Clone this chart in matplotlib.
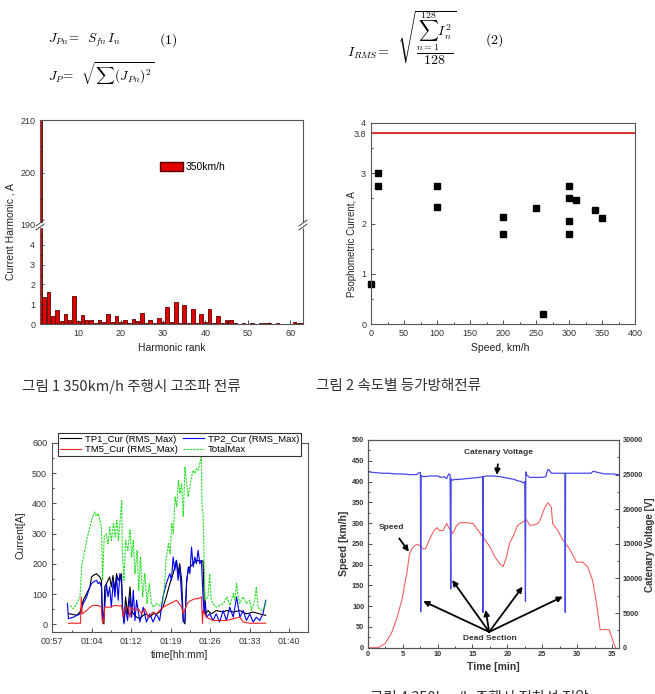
import numpy as np
import matplotlib.pyplot as plt
from matplotlib.patches import Patch, Rectangle
from matplotlib.lines import Line2D
from matplotlib.ticker import MultipleLocator

plt.rcParams['font.family'] = ['Liberation Sans', 'DejaVu Sans']
plt.rcParams['mathtext.fontset'] = 'cm'
plt.rcParams['axes.linewidth'] = 0.8
plt.rcParams['xtick.direction'] = 'in'
plt.rcParams['ytick.direction'] = 'in'

# fig 1: harmonic current at 350 km/h (rank 1..63)
harm_amp = [215, 1.35, 1.6, 0.4, 0.72, 0.15, 0.48, 0.18, 1.42, 0.15,
            0.47, 0.18, 0.18, 0.05, 0.2, 0.08, 0.5, 0.1, 0.4, 0.1,
            0.2, 0.05, 0.25, 0.15, 0.58, 0.05, 0.18, 0.05, 0.3, 0.1,
            0.85, 0.1, 1.1, 0.05, 0.98, 0.05, 0.78, 0.05, 0.48, 0.1,
            0.75, 0.05, 0.38, 0.05, 0.2, 0.2, 0.05, 0.02, 0.05, 0.02,
            0.06, 0.02, 0.03, 0.03, 0.03, 0.02, 0.06, 0.02, 0.02, 0.02,
            0.08, 0.03, 0.03]
harm_rank = np.arange(1, len(harm_amp) + 1)

# fig 2: psophometric current vs speed
pso_speed = [0, 10, 10, 100, 100, 200, 200, 250, 260, 300, 300, 300, 300, 310, 340, 350]
pso_curr = [0.8, 3.01, 2.74, 2.74, 2.32, 2.13, 1.8, 2.3, 0.2, 2.74, 2.5, 2.05, 1.8, 2.46, 2.26, 2.1]
pso_limit = 3.8

# fig 3: currents over time (minutes)
tp1_t = [60.6, 60.9, 62.1, 62.7, 63.3, 63.9, 64.5, 64.8, 65.1, 65.7,
         66.0, 66.3, 66.6, 66.8, 67.05, 67.2, 67.5, 67.8, 68.1, 68.4,
         68.7, 69.05, 69.35, 69.65, 69.95, 70.25, 70.45, 70.7, 70.99, 71.35,
         71.8, 72.1, 72.4, 73.0, 73.6, 74.2, 74.8, 75.4, 76.0, 76.6,
         77.2, 77.8, 78.4, 79.05, 79.65, 79.95, 80.25, 80.55, 80.85, 81.2,
         81.5, 81.8, 82.1, 82.4, 82.7, 83.3, 83.9, 84.5, 85.1, 85.3,
         85.5, 86.0, 86.6, 87.5, 88.75, 89.35, 90.6, 91.8, 93.0, 94.2, 95.4, 96.5]
tp1_v = [35, 35, 30, 41, 80, 102, 124, 157, 162, 168,
         162, 157, 146, 13, 2, 124, 135, 146, 157, 124,
         162, 113, 168, 146, 157, 168, 57, 8, 91, 35,
         124, 46, 35, 24, 19, 30, 35, 24, 35, 35,
         41, 57, 91, 135, 168, 190, 212, 168, 201, 146,
         13, 2, 146, 179, 190, 201, 212, 210, 210, 80,
         35, 46, 35, 46, 41, 46, 41, 46, 35, 41, 35, 30]

tp2_t = [60.4, 60.6, 61.5, 62.7, 63.3, 63.9, 64.5, 64.8, 65.1, 65.7,
         66.0, 66.3, 66.6, 66.8, 67.2, 67.5, 67.8, 68.1, 68.4, 68.75,
         69.05, 69.35, 69.65, 69.95, 70.25, 70.45, 70.7, 70.99, 71.35, 71.8,
         72.1, 72.4, 72.7, 73.0, 73.6, 74.2, 74.8, 75.4, 76.0, 76.6,
         77.2, 77.8, 78.4, 79.05, 79.35, 79.65, 79.95, 80.25, 80.55, 80.85,
         81.2, 81.5, 81.8, 82.1, 82.4, 82.7, 83.0, 83.3, 83.6, 83.9,
         84.2, 84.5, 84.8, 85.1, 85.3, 85.5, 85.7, 86.3, 86.9, 87.5,
         88.1, 88.75, 89.35, 89.95, 90.6, 91.2, 91.8, 92.4, 93.0, 93.6,
         94.2, 94.8, 95.4, 96.0, 96.5]
tp2_v = [69, 19, 24, 35, 69, 91, 124, 135, 140, 146,
         135, 140, 124, 8, 57, 135, 91, 124, 57, 146,
         91, 157, 80, 168, 135, 46, 2, 57, 13, 91,
         24, 113, 13, 80, 8, 57, 8, 35, 8, 35,
         13, 91, 135, 168, 146, 223, 179, 212, 146, 190,
         91, 8, 13, 135, 190, 168, 256, 190, 223, 201,
         245, 201, 212, 91, 35, 80, 24, 35, 13, 35,
         8, 46, 13, 57, 24, 91, 24, 46, 13, 35,
         8, 24, 13, 35, 80]

tm5_t = [60.6, 62.1, 62.8, 62.93, 63.1, 63.6, 64.5, 65.1, 65.7, 66.3,
         66.6, 66.8, 67.05, 67.2, 68.1, 69.05, 69.95, 70.25, 70.55, 70.9,
         71.5, 71.8, 72.1, 72.7, 73.3, 73.9, 74.5, 75.1, 76.0, 76.6,
         77.2, 77.8, 78.4, 79.05, 79.65, 80.25, 80.75, 81.2, 81.5, 81.95,
         82.4, 83.0, 83.6, 84.2, 84.8, 85.0, 85.1, 85.7, 86.9, 88.1,
         89.35, 90.6, 91.8, 92.4, 93.6, 96.5]
tm5_v = [4, 4, 4, 91, 35, 41, 57, 63, 63, 61,
         57, 4, 13, 57, 57, 63, 61, 63, 24, 52,
         57, 24, 57, 46, 52, 35, 52, 24, 41, 35,
         46, 57, 63, 69, 74, 80, 69, 57, 35, 57,
         74, 80, 85, 85, 91, 4, 46, 24, 13, 13,
         13, 19, 24, 8, 4, 4]

tot_t = [60.9, 61.5, 62.1, 62.7, 63.0, 63.3, 63.6, 63.9, 64.5, 65.1,
         65.4, 65.7, 66.0, 66.3, 66.6, 66.8, 67.1, 67.5, 67.8, 68.1,
         68.4, 68.8, 69.1, 69.4, 69.7, 70.0, 70.3, 70.4, 70.7, 71.0,
         71.4, 71.8, 72.1, 72.4, 72.7, 73.1, 73.4, 73.7, 74.1, 74.5,
         74.9, 75.3, 75.7, 76.1, 76.6, 77.2, 77.8, 78.1, 78.4, 78.8,
         79.1, 79.4, 79.7, 80.0, 80.3, 80.6, 80.9, 81.2, 81.5, 81.8,
         82.1, 82.4, 82.7, 83.0, 83.3, 83.6, 83.9, 84.2, 84.5, 84.8,
         84.9, 85.1, 85.3, 85.5, 86.0, 86.3, 86.6, 86.9, 87.5, 88.1,
         88.8, 89.4, 90.0, 90.6, 90.9, 91.2, 91.5, 91.8, 92.4, 93.0,
         93.6, 93.9, 94.5, 94.8, 95.1, 95.7, 96.3, 96.6]
tot_v = [63, 52, 69, 91, 190, 223, 245, 278, 322, 361,
         372, 358, 367, 345, 322, 146, 290, 300, 267, 322,
         278, 334, 290, 345, 278, 345, 409, 245, 146, 278,
         245, 312, 223, 278, 168, 245, 113, 223, 91, 168,
         69, 135, 69, 57, 69, 63, 80, 135, 223, 267,
         234, 334, 300, 422, 389, 477, 433, 466, 356, 521,
         466, 422, 455, 488, 510, 499, 516, 510, 533, 560,
         389, 367, 201, 80, 91, 168, 80, 69, 57, 63,
         69, 91, 63, 102, 80, 135, 91, 69, 91, 69,
         80, 46, 80, 124, 57, 46, 57, 80]

time_ticks = [57.6, 64.8, 72.0, 79.2, 86.4, 93.6, 100.8]
time_labels = ['00:57', '01:04', '01:12', '01:19', '01:26', '01:33', '01:40']

# fig 4: speed and catenary voltage over a 350 km/h run
spd_t = [0, 1.5, 2.5, 3.4, 4.1, 4.9, 5.6, 6.0, 6.5, 7.1,
         7.5, 7.95, 8.3, 8.8, 9.4, 9.9, 10.3, 10.8, 11.3, 11.7,
         12.2, 12.7, 13.2, 14.1, 15.1, 15.6, 16.5, 17.5, 18.2, 18.9,
         19.4, 19.9, 20.3, 20.8, 21.5, 22.1, 22.7, 23.2, 23.7, 24.4,
         24.9, 25.3, 25.8, 26.3, 26.5, 27.2, 27.95, 28.7, 29.4, 29.9,
         30.8, 31.5, 32.2, 32.7, 33.3, 33.9, 34.6, 35.1, 35.5]
spd_v = [0, 0, 10, 35, 67, 115, 179, 227, 243, 249,
         245, 238, 238, 259, 279, 289, 282, 282, 299, 287,
         275, 293, 301, 301, 299, 287, 267, 243, 219, 203,
         195, 219, 251, 267, 295, 301, 309, 295, 295, 299,
         315, 335, 349, 339, 298, 283, 259, 243, 223, 206,
         206, 195, 163, 115, 43, 44, 43, 18, 0]
volt_t = [0, 1, 2, 3, 4, 5, 6, 7, 7.4, 7.55,
          7.6, 7.65, 7.7, 8, 9, 10, 10.5, 11, 11.3, 11.6,
          11.8, 11.9, 11.95, 12.1, 12.5, 13, 14, 15, 16, 16.45,
          16.5, 16.55, 17, 18, 19, 20, 21, 21.5, 22, 22.3,
          22.5, 22.6, 22.65, 22.8, 23.2, 24, 25, 25.5, 25.8, 26,
          26.3, 27, 28, 28.25, 28.3, 28.35, 29, 30, 31, 32,
          32.3, 33, 34, 35, 36]
volt_v = [25400, 25300, 25200, 25200, 25100, 25100, 25000, 25000, 25300, 25300,
          5200, 24900, 24800, 24700, 24800, 24800, 24600, 24700, 24400, 25100,
          25000, 8500, 24400, 24200, 24300, 24300, 24400, 24500, 24600, 24700,
          5100, 24700, 24800, 24800, 24700, 24500, 24300, 24100, 24000, 23800,
          24000, 6700, 25400, 24900, 24600, 24600, 24600, 24700, 25700, 25700,
          25200, 25200, 25200, 25200, 5100, 25200, 25200, 25200, 25200, 25200,
          25500, 25300, 25100, 25100, 25000]
dead_tips = [(7.95, 112), (12.1, 163), (16.9, 91), (22.2, 147), (27.95, 123)]

W, H = 655, 694
fig = plt.figure(figsize=(6.55, 6.94), dpi=100)


def fx(px):
    return px / W


def fy(py):
    return 1 - py / H


def box(l, t, r, b):
    return [fx(l), fy(b), (r - l) / W, (b - t) / H]


tick_kw = dict(labelsize=6.5, length=3, width=0.6, colors='#333333', labelcolor='#333333')

# ---- equations
fig.text(fx(48), fy(40), r'$J_{Pn}\!=\;\;S_{fn}\,I_n$', fontsize=9.5, va='center')
fig.text(fx(159), fy(40), r'$\mathrm{(1)}$', fontsize=10, va='center')
fig.text(fx(48), fy(74), r'$J_P\!=\;\;\sqrt{\sum(J_{Pn})^2}$', fontsize=9.5, va='center')
fig.text(fx(347), fy(38), r'$I_{RMS}\!=\;\;\sqrt{\dfrac{\sum_{n=1}^{128} I_n^2}{128}}$',
         fontsize=10, va='center')
fig.text(fx(485), fy(40), r'$\mathrm{(2)}$', fontsize=10, va='center')

# ---- fig 1 (broken y axis)
ax1u = fig.add_axes(box(40, 120, 303, 225))
ax1l = fig.add_axes(box(40, 225, 303, 324))
for ax in (ax1u, ax1l):
    ax.bar(harm_rank, harm_amp, width=0.85, color='#e00000', edgecolor='#5a0000', linewidth=0.6)
    ax.set_xlim(1, 63)
    ax.tick_params(**tick_kw)
    ax.tick_params(which='minor', length=1.5, width=0.5)
    for s in ax.spines.values():
        s.set_color('#555555')
ax1u.set_ylim(190, 210)
ax1u.set_yticks([190, 200, 210])
ax1u.yaxis.set_minor_locator(MultipleLocator(5))
ax1u.spines['bottom'].set_visible(False)
ax1u.set_xticks([])
ax1l.set_ylim(0, 5)
ax1l.set_yticks([0, 1, 2, 3, 4])
ax1l.spines['top'].set_visible(False)
ax1l.set_xticks([10, 20, 30, 40, 50, 60])
ax1l.xaxis.set_minor_locator(MultipleLocator(5))
ax1l.yaxis.set_minor_locator(MultipleLocator(0.5))
for xb in (40, 303):
    fig.patches.append(Rectangle((fx(xb - 3), fy(227)), 6 / W, 4 / H, transform=fig.transFigure,
                                 color='white', zorder=5))
    for dy in (-2, 2):
        fig.lines.append(Line2D([fx(xb - 4), fx(xb + 4)], [fy(225 + dy + 3), fy(225 + dy - 3)],
                                transform=fig.transFigure, color='#444444', lw=0.7, zorder=6))
ax1u.legend(handles=[Patch(facecolor='#e00000', edgecolor='#5a0000', label='350km/h')],
            loc='center left', bbox_to_anchor=(fx(160), fy(167)), bbox_transform=fig.transFigure,
            frameon=False, fontsize=7.5, handlelength=2.2, handleheight=0.9,
            handletextpad=0.25, borderpad=0, borderaxespad=0)
fig.text(fx(11), fy(232), 'Current Harmonic , A', rotation=90, fontsize=7.5,
         ha='center', va='center', color='#222222')
fig.text(fx(172), fy(348), 'Harmonic rank', fontsize=7.5, ha='center', va='center', color='#222222')

# ---- fig 2
ax2 = fig.add_axes(box(371, 123, 635, 324))
ax2.plot(pso_speed, pso_curr, 's', color='black', markersize=4, clip_on=False)
ax2.axhline(pso_limit, color='#e03030', lw=1.4)
ax2.set_xlim(0, 400)
ax2.set_ylim(0, 4)
ax2.set_xticks(range(0, 401, 50))
ax2.xaxis.set_minor_locator(MultipleLocator(25))
ax2.set_yticks([0, 1, 2, 3, pso_limit, 4])
ax2.set_yticklabels(['0', '1', '2', '3', '3.8', '4'])
ax2.yaxis.set_minor_locator(MultipleLocator(0.5))
ax2.tick_params(**tick_kw)
ax2.tick_params(which='minor', length=1.5, width=0.5)
for s in ax2.spines.values():
    s.set_color('#555555')
fig.text(fx(352), fy(244), 'Psophometric Current, A', rotation=90, fontsize=7,
         ha='center', va='center', color='#222222')
fig.text(fx(500), fy(348), 'Speed, km/h', fontsize=7.5, ha='center', va='center', color='#222222')

# ---- captions
kfont = ['Noto Sans CJK KR', 'DejaVu Sans']
fig.text(fx(22), fy(386), '그림 1 350km/h 주행시 고조파 전류', family=kfont, fontsize=10.5,
         va='center', color='#333333')
fig.text(fx(316), fy(386), '그림 2 속도별 등가방해전류', family=kfont, fontsize=10.5,
         va='center', color='#333333')
fig.text(fx(370), fy(690), '그림 4 350km/h 주행시 전차선 전압', family=kfont, fontsize=10.5,
         va='top', color='#333333')

# ---- fig 3
ax3 = fig.add_axes(box(52, 443, 308, 632))
l1, = ax3.plot(tp1_t, tp1_v, color='black', lw=0.8, label='TP1_Cur (RMS_Max)')
l2, = ax3.plot(tp2_t, tp2_v, color='#0000ee', lw=0.8, label='TP2_Cur (RMS_Max)')
l3, = ax3.plot(tm5_t, tm5_v, color='#ee2020', lw=0.8, label='TM5_Cur (RMS_Max)')
l4, = ax3.plot(tot_t, tot_v, color='#22dd22', lw=0.8, ls=(0, (2, 1)), label='TotalMax')
ax3.set_xlim(57.6, 104.2)
ax3.set_ylim(-25, 600)
ax3.set_xticks(time_ticks)
ax3.set_xticklabels(time_labels)
ax3.xaxis.set_minor_locator(MultipleLocator(3.6))
ax3.set_yticks(range(0, 601, 100))
ax3.yaxis.set_minor_locator(MultipleLocator(50))
ax3.tick_params(**tick_kw)
ax3.tick_params(which='minor', length=1.5, width=0.5)
for s in ax3.spines.values():
    s.set_color('#555555')
leg = ax3.legend(handles=[l1, l3, l2, l4], ncol=2, loc='upper center',
                 bbox_to_anchor=(fx(179.5), fy(428)), bbox_transform=fig.transFigure,
                 fontsize=6.8, handlelength=2.3, handletextpad=0.4, columnspacing=0.5,
                 borderpad=0.2, labelspacing=0.15, fancybox=False, framealpha=1)
leg.get_frame().set_edgecolor('#333333')
leg.get_frame().set_linewidth(0.8)
fig.text(fx(20), fy(535), 'Current[A]', rotation=90, fontsize=7.5, ha='center', va='center',
         color='#222222')
fig.text(fx(180), fy(655), 'time[hh:mm]', fontsize=7.5, ha='center', va='center', color='#222222')

# ---- fig 4
ax4 = fig.add_axes(box(367.7, 440, 619, 647.7))
ax4.plot(spd_t, spd_v, color='#f06060', lw=0.8)
ax4.set_xlim(0, 36)
ax4.set_ylim(0, 500)
ax4.set_xticks(range(0, 36, 5))
ax4.xaxis.set_minor_locator(MultipleLocator(2.5))
ax4.set_yticks(range(0, 501, 50))
ax4.yaxis.set_minor_locator(MultipleLocator(25))
ax4b = ax4.twinx()
ax4b.plot(volt_t, volt_v, color='#4848e8', lw=0.9)
ax4b.set_ylim(0, 30000)
ax4b.set_yticks(range(0, 30001, 5000))
ax4b.yaxis.set_minor_locator(MultipleLocator(2500))
for ax in (ax4, ax4b):
    ax.tick_params(labelsize=5.3, length=3, width=0.6, pad=2.5, colors='#333333',
                   labelcolor='#333333')
    ax.tick_params(which='minor', length=1.5, width=0.5)
    for lab in ax.get_xticklabels() + ax.get_yticklabels():
        lab.set_fontweight('bold')
    for s in ax.spines.values():
        s.set_color('#555555')
arrow_kw = dict(arrowstyle='-|>', color='black', lw=1.3, mutation_scale=8)
ax4.annotate('Catenary Voltage', xy=(18.5, 416), xytext=(18.8, 470), fontsize=6,
             fontweight='bold', ha='center', va='center', color='#333333',
             arrowprops=dict(arrow_kw, shrinkA=4, shrinkB=0))
ax4.annotate('Speed', xy=(5.9, 231), xytext=(3.4, 289), fontsize=6, fontweight='bold',
             ha='center', va='center', color='#333333', arrowprops=dict(arrow_kw, shrinkA=4, shrinkB=0))
ax4.text(17.5, 22, 'Dead Section', fontsize=6, fontweight='bold', ha='center', va='center',
         color='#333333')
for tip in dead_tips:
    ax4.annotate('', xy=tip, xytext=(17.4, 38), arrowprops=dict(arrow_kw, shrinkA=0, shrinkB=0))
fig.text(fx(344), fy(543), 'Speed [km/h]', rotation=90, fontsize=7.5, fontweight='bold',
         ha='center', va='center', color='#333333')
fig.text(fx(650), fy(545), 'Catenary Voltage [V]', rotation=90, fontsize=7, fontweight='bold',
         ha='center', va='center', color='#333333')
fig.text(fx(493), fy(667), 'Time [min]', fontsize=7.5, fontweight='bold', ha='center',
         va='center', color='#333333')

fig.savefig('out.png', dpi=100)
